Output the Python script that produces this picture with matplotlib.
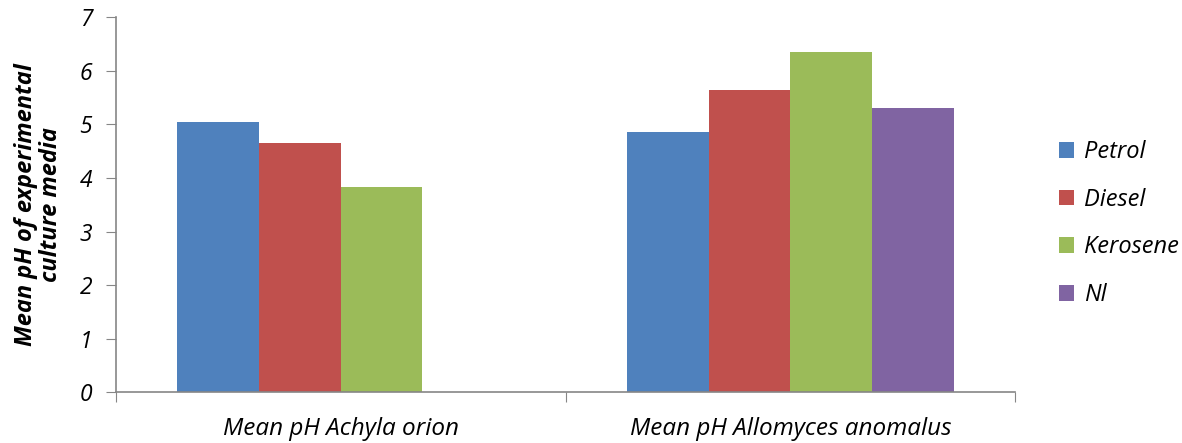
import numpy as np
import matplotlib.pyplot as plt

plt.rcParams['font.family'] = ['Open Sans', 'DejaVu Sans']

categories = ["Mean pH Achyla orion", "Mean pH Allomyces anomalus"]
series = ["Petrol", "Diesel", "Kerosene", "Nl"]
petrol = [5.04, 4.86]
diesel = [4.66, 5.64]
kerosene = [3.84, 6.35]
nl = [0, 5.31]
colors = ["#4F81BD", "#C0504D", "#9BBB59", "#8064A2"]

fig = plt.figure(figsize=(11.82, 4.43), dpi=100)
ax = fig.add_axes([0.098, 0.114, 0.761, 0.847])

x = np.arange(len(categories))
w = 0.1815
for i, (name, vals) in enumerate(zip(series, [petrol, diesel, kerosene, nl])):
    ax.bar(x + (i - 1.5) * w, vals, width=w, color=colors[i], label=name, linewidth=0)

ax.set_xlim(-0.5, 1.5)
ax.set_ylim(0, 7)
ax.set_yticks(range(8))
ax.set_yticklabels([str(v) for v in range(8)], fontsize=16.5, style='italic')
ax.set_xticks([-0.5, 0.5, 1.5], minor=False)
ax.set_xticklabels(["", "", ""])
ax.set_xticks(x, minor=True)
ax.set_xticklabels(categories, minor=True, fontsize=17.5, style='italic')
ax.tick_params(axis='x', which='minor', length=0, pad=18)
ax.tick_params(axis='x', which='major', length=7, color='#868686', direction='out')
ax.tick_params(axis='y', length=7, color='#868686', direction='out', pad=10)

for s in ['top', 'right']:
    ax.spines[s].set_visible(False)
for s in ['left', 'bottom']:
    ax.spines[s].set_color('#868686')
    ax.spines[s].set_linewidth(1.2)

ax.set_ylabel("Mean pH of experimental\nculture media", fontsize=17, fontweight='bold',
              style='italic', labelpad=12, linespacing=1.05)

ax.legend(loc='center left', bbox_to_anchor=(1.025, 0.45), frameon=False,
          prop={'size': 17, 'style': 'italic'}, handlelength=0.65, handleheight=0.65,
          labelspacing=1.0, handletextpad=0.4)

fig.savefig("out.png", dpi=100)
